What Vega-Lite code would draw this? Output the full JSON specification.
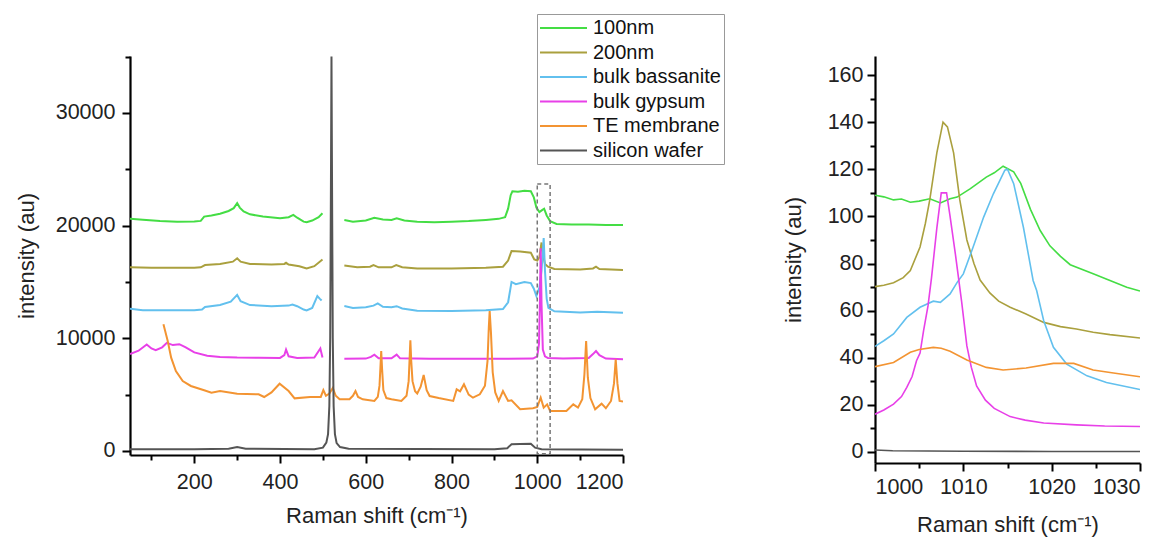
{
"$schema": "https://vega.github.io/schema/vega-lite/v6.json",
"padding": {"left": 15, "top": 13, "right": 4, "bottom": 4},
"background": "white",
"bounds": "flush",
"spacing": 252,
"config": {
  "font": "Liberation Sans",
  "view": {"stroke": null},
  "axis": {"domainColor": "black", "domainWidth": 2.2, "tickColor": "black", "tickWidth": 2, "labelFont": "Liberation Sans", "labelFontSize": 21.5, "labelColor": "#222", "titleFont": "Liberation Sans", "titleFontSize": 22, "titleFontWeight": "normal", "titleColor": "#222", "grid": false}
},
"datasets": {
  "box": [{"x1": 1000, "x2": 1030, "y1": -250, "y2": 23700}],
  "left": [
{"s":"100nm","g":"a","x":50,"y":20600},{"s":"100nm","g":"a","x":80,"y":20520},{"s":"100nm","g":"a","x":120,"y":20400},{"s":"100nm","g":"a","x":160,"y":20350},{"s":"100nm","g":"a","x":200,"y":20360},{"s":"100nm","g":"a","x":215,"y":20420},{"s":"100nm","g":"a","x":223,"y":20800},{"s":"100nm","g":"a","x":240,"y":20900},{"s":"100nm","g":"a","x":260,"y":21050},{"s":"100nm","g":"a","x":280,"y":21300},{"s":"100nm","g":"a","x":292,"y":21550},{"s":"100nm","g":"a","x":300,"y":22000},{"s":"100nm","g":"a","x":306,"y":21600},{"s":"100nm","g":"a","x":315,"y":21250},{"s":"100nm","g":"a","x":330,"y":21000},{"s":"100nm","g":"a","x":360,"y":20800},{"s":"100nm","g":"a","x":400,"y":20650},{"s":"100nm","g":"a","x":420,"y":20750},{"s":"100nm","g":"a","x":431,"y":20950},{"s":"100nm","g":"a","x":440,"y":20700},{"s":"100nm","g":"a","x":455,"y":20350},{"s":"100nm","g":"a","x":462,"y":20300},{"s":"100nm","g":"a","x":475,"y":20450},{"s":"100nm","g":"a","x":490,"y":20750},{"s":"100nm","g":"a","x":499,"y":21100},
{"s":"100nm","g":"b","x":550,"y":20500},{"s":"100nm","g":"b","x":570,"y":20350},{"s":"100nm","g":"b","x":600,"y":20450},{"s":"100nm","g":"b","x":620,"y":20700},{"s":"100nm","g":"b","x":640,"y":20550},{"s":"100nm","g":"b","x":660,"y":20500},{"s":"100nm","g":"b","x":672,"y":20650},{"s":"100nm","g":"b","x":690,"y":20450},{"s":"100nm","g":"b","x":720,"y":20350},{"s":"100nm","g":"b","x":760,"y":20300},{"s":"100nm","g":"b","x":800,"y":20350},{"s":"100nm","g":"b","x":840,"y":20400},{"s":"100nm","g":"b","x":880,"y":20500},{"s":"100nm","g":"b","x":910,"y":20600},{"s":"100nm","g":"b","x":925,"y":20750},{"s":"100nm","g":"b","x":932,"y":21500},{"s":"100nm","g":"b","x":938,"y":22700},{"s":"100nm","g":"b","x":942,"y":23050},{"s":"100nm","g":"b","x":955,"y":23000},{"s":"100nm","g":"b","x":970,"y":23100},{"s":"100nm","g":"b","x":985,"y":23050},{"s":"100nm","g":"b","x":992,"y":22500},{"s":"100nm","g":"b","x":998,"y":21600},{"s":"100nm","g":"b","x":1005,"y":21200},{"s":"100nm","g":"b","x":1012,"y":21400},{"s":"100nm","g":"b","x":1016,"y":21500},{"s":"100nm","g":"b","x":1022,"y":20900},{"s":"100nm","g":"b","x":1030,"y":20400},{"s":"100nm","g":"b","x":1045,"y":20150},{"s":"100nm","g":"b","x":1080,"y":20100},{"s":"100nm","g":"b","x":1120,"y":20100},{"s":"100nm","g":"b","x":1160,"y":20050},{"s":"100nm","g":"b","x":1200,"y":20050},
{"s":"200nm","g":"a","x":50,"y":16300},{"s":"200nm","g":"a","x":100,"y":16250},{"s":"200nm","g":"a","x":150,"y":16250},{"s":"200nm","g":"a","x":200,"y":16250},{"s":"200nm","g":"a","x":215,"y":16300},{"s":"200nm","g":"a","x":225,"y":16500},{"s":"200nm","g":"a","x":260,"y":16600},{"s":"200nm","g":"a","x":290,"y":16800},{"s":"200nm","g":"a","x":300,"y":17100},{"s":"200nm","g":"a","x":308,"y":16800},{"s":"200nm","g":"a","x":330,"y":16600},{"s":"200nm","g":"a","x":380,"y":16550},{"s":"200nm","g":"a","x":410,"y":16600},{"s":"200nm","g":"a","x":414,"y":16700},{"s":"200nm","g":"a","x":420,"y":16550},{"s":"200nm","g":"a","x":445,"y":16400},{"s":"200nm","g":"a","x":462,"y":16200},{"s":"200nm","g":"a","x":480,"y":16400},{"s":"200nm","g":"a","x":499,"y":17000},
{"s":"200nm","g":"b","x":550,"y":16450},{"s":"200nm","g":"b","x":580,"y":16300},{"s":"200nm","g":"b","x":610,"y":16350},{"s":"200nm","g":"b","x":618,"y":16500},{"s":"200nm","g":"b","x":630,"y":16300},{"s":"200nm","g":"b","x":660,"y":16300},{"s":"200nm","g":"b","x":671,"y":16500},{"s":"200nm","g":"b","x":685,"y":16300},{"s":"200nm","g":"b","x":720,"y":16200},{"s":"200nm","g":"b","x":800,"y":16200},{"s":"200nm","g":"b","x":880,"y":16250},{"s":"200nm","g":"b","x":920,"y":16350},{"s":"200nm","g":"b","x":932,"y":16900},{"s":"200nm","g":"b","x":940,"y":17750},{"s":"200nm","g":"b","x":960,"y":17700},{"s":"200nm","g":"b","x":985,"y":17600},{"s":"200nm","g":"b","x":993,"y":17000},{"s":"200nm","g":"b","x":1000,"y":16900},{"s":"200nm","g":"b","x":1005,"y":17200},{"s":"200nm","g":"b","x":1008,"y":18000},{"s":"200nm","g":"b","x":1010,"y":18500},{"s":"200nm","g":"b","x":1013,"y":17500},{"s":"200nm","g":"b","x":1018,"y":16600},{"s":"200nm","g":"b","x":1025,"y":16350},{"s":"200nm","g":"b","x":1040,"y":16150},{"s":"200nm","g":"b","x":1100,"y":16100},{"s":"200nm","g":"b","x":1130,"y":16200},{"s":"200nm","g":"b","x":1137,"y":16350},{"s":"200nm","g":"b","x":1145,"y":16150},{"s":"200nm","g":"b","x":1200,"y":16060},
{"s":"bulk bassanite","g":"a","x":50,"y":12630},{"s":"bulk bassanite","g":"a","x":80,"y":12500},{"s":"bulk bassanite","g":"a","x":120,"y":12480},{"s":"bulk bassanite","g":"a","x":200,"y":12480},{"s":"bulk bassanite","g":"a","x":218,"y":12550},{"s":"bulk bassanite","g":"a","x":225,"y":12780},{"s":"bulk bassanite","g":"a","x":260,"y":12950},{"s":"bulk bassanite","g":"a","x":285,"y":13250},{"s":"bulk bassanite","g":"a","x":300,"y":13850},{"s":"bulk bassanite","g":"a","x":308,"y":13300},{"s":"bulk bassanite","g":"a","x":330,"y":12950},{"s":"bulk bassanite","g":"a","x":380,"y":12850},{"s":"bulk bassanite","g":"a","x":420,"y":12900},{"s":"bulk bassanite","g":"a","x":429,"y":13000},{"s":"bulk bassanite","g":"a","x":440,"y":12850},{"s":"bulk bassanite","g":"a","x":455,"y":12550},{"s":"bulk bassanite","g":"a","x":462,"y":12480},{"s":"bulk bassanite","g":"a","x":475,"y":12700},{"s":"bulk bassanite","g":"a","x":487,"y":13750},{"s":"bulk bassanite","g":"a","x":493,"y":13500},{"s":"bulk bassanite","g":"a","x":497,"y":13350},
{"s":"bulk bassanite","g":"b","x":550,"y":12870},{"s":"bulk bassanite","g":"b","x":570,"y":12700},{"s":"bulk bassanite","g":"b","x":600,"y":12750},{"s":"bulk bassanite","g":"b","x":618,"y":12900},{"s":"bulk bassanite","g":"b","x":628,"y":13100},{"s":"bulk bassanite","g":"b","x":640,"y":12800},{"s":"bulk bassanite","g":"b","x":660,"y":12750},{"s":"bulk bassanite","g":"b","x":672,"y":12850},{"s":"bulk bassanite","g":"b","x":685,"y":12650},{"s":"bulk bassanite","g":"b","x":720,"y":12450},{"s":"bulk bassanite","g":"b","x":800,"y":12420},{"s":"bulk bassanite","g":"b","x":880,"y":12500},{"s":"bulk bassanite","g":"b","x":920,"y":12600},{"s":"bulk bassanite","g":"b","x":932,"y":13200},{"s":"bulk bassanite","g":"b","x":940,"y":15000},{"s":"bulk bassanite","g":"b","x":950,"y":14800},{"s":"bulk bassanite","g":"b","x":970,"y":15000},{"s":"bulk bassanite","g":"b","x":985,"y":14900},{"s":"bulk bassanite","g":"b","x":992,"y":14400},{"s":"bulk bassanite","g":"b","x":998,"y":13750},{"s":"bulk bassanite","g":"b","x":1005,"y":14500},{"s":"bulk bassanite","g":"b","x":1010,"y":16000},{"s":"bulk bassanite","g":"b","x":1015,"y":18900},{"s":"bulk bassanite","g":"b","x":1018,"y":16000},{"s":"bulk bassanite","g":"b","x":1022,"y":13500},{"s":"bulk bassanite","g":"b","x":1026,"y":12700},{"s":"bulk bassanite","g":"b","x":1040,"y":12400},{"s":"bulk bassanite","g":"b","x":1100,"y":12300},{"s":"bulk bassanite","g":"b","x":1140,"y":12350},{"s":"bulk bassanite","g":"b","x":1200,"y":12270},
{"s":"bulk gypsum","g":"a","x":50,"y":8600},{"s":"bulk gypsum","g":"a","x":70,"y":8900},{"s":"bulk gypsum","g":"a","x":89,"y":9450},{"s":"bulk gypsum","g":"a","x":100,"y":9100},{"s":"bulk gypsum","g":"a","x":110,"y":8950},{"s":"bulk gypsum","g":"a","x":125,"y":9200},{"s":"bulk gypsum","g":"a","x":136,"y":9600},{"s":"bulk gypsum","g":"a","x":150,"y":9400},{"s":"bulk gypsum","g":"a","x":165,"y":9480},{"s":"bulk gypsum","g":"a","x":180,"y":9200},{"s":"bulk gypsum","g":"a","x":200,"y":8750},{"s":"bulk gypsum","g":"a","x":230,"y":8450},{"s":"bulk gypsum","g":"a","x":260,"y":8350},{"s":"bulk gypsum","g":"a","x":300,"y":8300},{"s":"bulk gypsum","g":"a","x":350,"y":8280},{"s":"bulk gypsum","g":"a","x":400,"y":8260},{"s":"bulk gypsum","g":"a","x":410,"y":8500},{"s":"bulk gypsum","g":"a","x":414,"y":9000},{"s":"bulk gypsum","g":"a","x":420,"y":8400},{"s":"bulk gypsum","g":"a","x":440,"y":8250},{"s":"bulk gypsum","g":"a","x":480,"y":8300},{"s":"bulk gypsum","g":"a","x":494,"y":9100},{"s":"bulk gypsum","g":"a","x":499,"y":8300},
{"s":"bulk gypsum","g":"b","x":550,"y":8190},{"s":"bulk gypsum","g":"b","x":600,"y":8200},{"s":"bulk gypsum","g":"b","x":612,"y":8350},{"s":"bulk gypsum","g":"b","x":620,"y":8550},{"s":"bulk gypsum","g":"b","x":630,"y":8220},{"s":"bulk gypsum","g":"b","x":660,"y":8220},{"s":"bulk gypsum","g":"b","x":672,"y":8550},{"s":"bulk gypsum","g":"b","x":680,"y":8220},{"s":"bulk gypsum","g":"b","x":750,"y":8190},{"s":"bulk gypsum","g":"b","x":900,"y":8190},{"s":"bulk gypsum","g":"b","x":990,"y":8200},{"s":"bulk gypsum","g":"b","x":1000,"y":8400},{"s":"bulk gypsum","g":"b","x":1004,"y":9500},{"s":"bulk gypsum","g":"b","x":1006,"y":13000},{"s":"bulk gypsum","g":"b","x":1008,"y":18000},{"s":"bulk gypsum","g":"b","x":1010,"y":13000},{"s":"bulk gypsum","g":"b","x":1013,"y":9000},{"s":"bulk gypsum","g":"b","x":1018,"y":8400},{"s":"bulk gypsum","g":"b","x":1025,"y":8250},{"s":"bulk gypsum","g":"b","x":1060,"y":8200},{"s":"bulk gypsum","g":"b","x":1120,"y":8250},{"s":"bulk gypsum","g":"b","x":1130,"y":8600},{"s":"bulk gypsum","g":"b","x":1137,"y":8870},{"s":"bulk gypsum","g":"b","x":1145,"y":8500},{"s":"bulk gypsum","g":"b","x":1160,"y":8200},{"s":"bulk gypsum","g":"b","x":1200,"y":8150},
{"s":"TE membrane","g":"a","x":128,"y":11240},{"s":"TE membrane","g":"a","x":138,"y":9760},{"s":"TE membrane","g":"a","x":146,"y":8280},{"s":"TE membrane","g":"a","x":157,"y":7100},{"s":"TE membrane","g":"a","x":173,"y":6210},{"s":"TE membrane","g":"a","x":192,"y":5770},{"s":"TE membrane","g":"a","x":223,"y":5390},{"s":"TE membrane","g":"a","x":240,"y":5180},{"s":"TE membrane","g":"a","x":260,"y":5320},{"s":"TE membrane","g":"a","x":300,"y":5090},{"s":"TE membrane","g":"a","x":350,"y":5030},{"s":"TE membrane","g":"a","x":363,"y":4790},{"s":"TE membrane","g":"a","x":380,"y":5200},{"s":"TE membrane","g":"a","x":399,"y":5970},{"s":"TE membrane","g":"a","x":420,"y":5320},{"s":"TE membrane","g":"a","x":434,"y":4670},{"s":"TE membrane","g":"a","x":470,"y":4790},{"s":"TE membrane","g":"a","x":495,"y":4800},{"s":"TE membrane","g":"a","x":501,"y":5400},{"s":"TE membrane","g":"a","x":507,"y":4900},{"s":"TE membrane","g":"a","x":515,"y":5100},{"s":"TE membrane","g":"a","x":523,"y":5600},{"s":"TE membrane","g":"a","x":530,"y":4900},{"s":"TE membrane","g":"a","x":539,"y":4590},{"s":"TE membrane","g":"a","x":562,"y":4590},{"s":"TE membrane","g":"a","x":570,"y":4900},{"s":"TE membrane","g":"a","x":576,"y":5320},{"s":"TE membrane","g":"a","x":582,"y":4800},{"s":"TE membrane","g":"a","x":593,"y":4590},{"s":"TE membrane","g":"a","x":620,"y":4440},{"s":"TE membrane","g":"a","x":628,"y":4800},{"s":"TE membrane","g":"a","x":632,"y":5800},{"s":"TE membrane","g":"a","x":634,"y":7300},{"s":"TE membrane","g":"a","x":636,"y":8870},{"s":"TE membrane","g":"a","x":638,"y":7300},{"s":"TE membrane","g":"a","x":641,"y":5400},{"s":"TE membrane","g":"a","x":648,"y":4700},{"s":"TE membrane","g":"a","x":660,"y":4600},{"s":"TE membrane","g":"a","x":683,"y":4440},{"s":"TE membrane","g":"a","x":695,"y":4900},{"s":"TE membrane","g":"a","x":700,"y":6200},{"s":"TE membrane","g":"a","x":702,"y":8000},{"s":"TE membrane","g":"a","x":704,"y":9820},{"s":"TE membrane","g":"a","x":706,"y":8000},{"s":"TE membrane","g":"a","x":709,"y":6200},{"s":"TE membrane","g":"a","x":715,"y":5300},{"s":"TE membrane","g":"a","x":720,"y":5100},{"s":"TE membrane","g":"a","x":728,"y":5700},{"s":"TE membrane","g":"a","x":735,"y":6740},{"s":"TE membrane","g":"a","x":742,"y":5400},{"s":"TE membrane","g":"a","x":749,"y":4880},{"s":"TE membrane","g":"a","x":770,"y":4700},{"s":"TE membrane","g":"a","x":804,"y":4440},{"s":"TE membrane","g":"a","x":812,"y":5470},{"s":"TE membrane","g":"a","x":820,"y":5300},{"s":"TE membrane","g":"a","x":829,"y":5920},{"s":"TE membrane","g":"a","x":840,"y":5000},{"s":"TE membrane","g":"a","x":850,"y":4730},{"s":"TE membrane","g":"a","x":866,"y":5030},{"s":"TE membrane","g":"a","x":878,"y":5800},{"s":"TE membrane","g":"a","x":884,"y":8000},{"s":"TE membrane","g":"a","x":887,"y":11000},{"s":"TE membrane","g":"a","x":889,"y":12420},{"s":"TE membrane","g":"a","x":892,"y":10500},{"s":"TE membrane","g":"a","x":896,"y":7000},{"s":"TE membrane","g":"a","x":902,"y":5200},{"s":"TE membrane","g":"a","x":910,"y":4440},{"s":"TE membrane","g":"a","x":920,"y":5320},{"s":"TE membrane","g":"a","x":932,"y":4440},{"s":"TE membrane","g":"a","x":940,"y":4500},{"s":"TE membrane","g":"a","x":960,"y":3700},{"s":"TE membrane","g":"a","x":990,"y":3790},{"s":"TE membrane","g":"a","x":1000,"y":3900},{"s":"TE membrane","g":"a","x":1008,"y":4730},{"s":"TE membrane","g":"a","x":1015,"y":3850},{"s":"TE membrane","g":"a","x":1023,"y":4140},{"s":"TE membrane","g":"a","x":1030,"y":3550},{"s":"TE membrane","g":"a","x":1068,"y":3550},{"s":"TE membrane","g":"a","x":1084,"y":4140},{"s":"TE membrane","g":"a","x":1095,"y":3850},{"s":"TE membrane","g":"a","x":1105,"y":4600},{"s":"TE membrane","g":"a","x":1110,"y":6800},{"s":"TE membrane","g":"a","x":1114,"y":9760},{"s":"TE membrane","g":"a","x":1118,"y":6500},{"s":"TE membrane","g":"a","x":1124,"y":4700},{"s":"TE membrane","g":"a","x":1135,"y":3700},{"s":"TE membrane","g":"a","x":1150,"y":4200},{"s":"TE membrane","g":"a","x":1160,"y":3790},{"s":"TE membrane","g":"a","x":1172,"y":4440},{"s":"TE membrane","g":"a","x":1179,"y":6000},{"s":"TE membrane","g":"a","x":1183,"y":8140},{"s":"TE membrane","g":"a","x":1187,"y":6000},{"s":"TE membrane","g":"a","x":1192,"y":4440},{"s":"TE membrane","g":"a","x":1200,"y":4380},
{"s":"silicon wafer","g":"a","x":50,"y":150},{"s":"silicon wafer","g":"a","x":200,"y":150},{"s":"silicon wafer","g":"a","x":280,"y":200},{"s":"silicon wafer","g":"a","x":300,"y":350},{"s":"silicon wafer","g":"a","x":320,"y":200},{"s":"silicon wafer","g":"a","x":480,"y":150},{"s":"silicon wafer","g":"a","x":500,"y":300},{"s":"silicon wafer","g":"a","x":508,"y":740},{"s":"silicon wafer","g":"a","x":512,"y":1500},{"s":"silicon wafer","g":"a","x":515,"y":4000},{"s":"silicon wafer","g":"a","x":517,"y":10000},{"s":"silicon wafer","g":"a","x":519,"y":26000},{"s":"silicon wafer","g":"a","x":520,"y":35000},{"s":"silicon wafer","g":"a","x":521,"y":26000},{"s":"silicon wafer","g":"a","x":523,"y":10000},{"s":"silicon wafer","g":"a","x":525,"y":4000},{"s":"silicon wafer","g":"a","x":528,"y":1500},{"s":"silicon wafer","g":"a","x":532,"y":700},{"s":"silicon wafer","g":"a","x":540,"y":350},{"s":"silicon wafer","g":"a","x":560,"y":200},{"s":"silicon wafer","g":"a","x":900,"y":150},{"s":"silicon wafer","g":"a","x":930,"y":250},{"s":"silicon wafer","g":"a","x":940,"y":600},{"s":"silicon wafer","g":"a","x":960,"y":620},{"s":"silicon wafer","g":"a","x":985,"y":650},{"s":"silicon wafer","g":"a","x":995,"y":300},{"s":"silicon wafer","g":"a","x":1010,"y":150},{"s":"silicon wafer","g":"a","x":1200,"y":100}
  ],
  "right": [
{"s":"100nm","x":1000,"y":109},{"s":"100nm","x":1001,"y":108.3},{"s":"100nm","x":1002.1,"y":107},{"s":"100nm","x":1003,"y":107.4},{"s":"100nm","x":1004,"y":106},{"s":"100nm","x":1005,"y":106.5},{"s":"100nm","x":1006.2,"y":107.5},{"s":"100nm","x":1007.4,"y":105.7},{"s":"100nm","x":1008.5,"y":107.5},{"s":"100nm","x":1009.3,"y":108.2},{"s":"100nm","x":1010.8,"y":111.8},{"s":"100nm","x":1012.6,"y":116.7},{"s":"100nm","x":1013.5,"y":118.5},{"s":"100nm","x":1014.5,"y":121.3},{"s":"100nm","x":1015.7,"y":118.9},{"s":"100nm","x":1016.5,"y":114},{"s":"100nm","x":1017.6,"y":103},{"s":"100nm","x":1018.7,"y":94},{"s":"100nm","x":1019.8,"y":87.5},{"s":"100nm","x":1021,"y":83},{"s":"100nm","x":1022.1,"y":79.5},{"s":"100nm","x":1024.7,"y":75.6},{"s":"100nm","x":1026.6,"y":72.8},{"s":"100nm","x":1028.5,"y":69.9},{"s":"100nm","x":1030,"y":68.3},
{"s":"200nm","x":1000,"y":70.2},{"s":"200nm","x":1001,"y":70.8},{"s":"200nm","x":1002.1,"y":71.8},{"s":"200nm","x":1003.2,"y":74},{"s":"200nm","x":1004,"y":77},{"s":"200nm","x":1005.1,"y":87},{"s":"200nm","x":1005.7,"y":97},{"s":"200nm","x":1006.2,"y":107},{"s":"200nm","x":1007,"y":127},{"s":"200nm","x":1007.7,"y":140},{"s":"200nm","x":1008.2,"y":138},{"s":"200nm","x":1008.9,"y":127},{"s":"200nm","x":1009.6,"y":107},{"s":"200nm","x":1010.4,"y":90},{"s":"200nm","x":1011.2,"y":80},{"s":"200nm","x":1011.9,"y":73},{"s":"200nm","x":1013,"y":67.5},{"s":"200nm","x":1014,"y":64},{"s":"200nm","x":1015.3,"y":61.4},{"s":"200nm","x":1017.1,"y":58.6},{"s":"200nm","x":1019.1,"y":55},{"s":"200nm","x":1021,"y":53.2},{"s":"200nm","x":1022.8,"y":52.2},{"s":"200nm","x":1024.7,"y":50.8},{"s":"200nm","x":1026.6,"y":49.8},{"s":"200nm","x":1030,"y":48.4},
{"s":"bulk bassanite","x":1000,"y":44.8},{"s":"bulk bassanite","x":1001,"y":47.2},{"s":"bulk bassanite","x":1002.1,"y":50.1},{"s":"bulk bassanite","x":1003.6,"y":57.1},{"s":"bulk bassanite","x":1005.1,"y":61.4},{"s":"bulk bassanite","x":1006.6,"y":64},{"s":"bulk bassanite","x":1007.4,"y":63.5},{"s":"bulk bassanite","x":1008.5,"y":67.1},{"s":"bulk bassanite","x":1009.3,"y":72},{"s":"bulk bassanite","x":1010,"y":75.6},{"s":"bulk bassanite","x":1011.1,"y":86.9},{"s":"bulk bassanite","x":1012.3,"y":99.7},{"s":"bulk bassanite","x":1013.4,"y":109.6},{"s":"bulk bassanite","x":1014.7,"y":119.6},{"s":"bulk bassanite","x":1015,"y":120},{"s":"bulk bassanite","x":1015.7,"y":113.9},{"s":"bulk bassanite","x":1016.8,"y":95.4},{"s":"bulk bassanite","x":1017.9,"y":72.8},{"s":"bulk bassanite","x":1018.3,"y":68.5},{"s":"bulk bassanite","x":1019.1,"y":55.7},{"s":"bulk bassanite","x":1020.2,"y":44.4},{"s":"bulk bassanite","x":1021.7,"y":37.3},{"s":"bulk bassanite","x":1024,"y":32.3},{"s":"bulk bassanite","x":1026.2,"y":29.5},{"s":"bulk bassanite","x":1030,"y":26.5},
{"s":"bulk gypsum","x":1000,"y":16},{"s":"bulk gypsum","x":1001,"y":17.8},{"s":"bulk gypsum","x":1002.1,"y":20.3},{"s":"bulk gypsum","x":1003,"y":23.5},{"s":"bulk gypsum","x":1003.6,"y":27.4},{"s":"bulk gypsum","x":1004.2,"y":32},{"s":"bulk gypsum","x":1004.7,"y":38.7},{"s":"bulk gypsum","x":1005.1,"y":42},{"s":"bulk gypsum","x":1005.5,"y":51.5},{"s":"bulk gypsum","x":1006,"y":62},{"s":"bulk gypsum","x":1006.4,"y":74},{"s":"bulk gypsum","x":1007,"y":95},{"s":"bulk gypsum","x":1007.5,"y":110},{"s":"bulk gypsum","x":1008.1,"y":110},{"s":"bulk gypsum","x":1008.5,"y":100},{"s":"bulk gypsum","x":1009.1,"y":84},{"s":"bulk gypsum","x":1009.8,"y":64},{"s":"bulk gypsum","x":1010.4,"y":45},{"s":"bulk gypsum","x":1010.9,"y":36},{"s":"bulk gypsum","x":1011.5,"y":28},{"s":"bulk gypsum","x":1012.5,"y":22},{"s":"bulk gypsum","x":1013.5,"y":18.5},{"s":"bulk gypsum","x":1015.3,"y":15},{"s":"bulk gypsum","x":1017,"y":13.5},{"s":"bulk gypsum","x":1019.1,"y":12.3},{"s":"bulk gypsum","x":1022.8,"y":11.5},{"s":"bulk gypsum","x":1026,"y":11},{"s":"bulk gypsum","x":1030,"y":10.8},
{"s":"TE membrane","x":1000,"y":36.2},{"s":"TE membrane","x":1002.1,"y":38},{"s":"TE membrane","x":1004,"y":42.3},{"s":"TE membrane","x":1005,"y":43.5},{"s":"TE membrane","x":1006.6,"y":44.4},{"s":"TE membrane","x":1007.5,"y":44},{"s":"TE membrane","x":1008.5,"y":42.7},{"s":"TE membrane","x":1010.4,"y":39},{"s":"TE membrane","x":1012.6,"y":35.9},{"s":"TE membrane","x":1014.5,"y":34.8},{"s":"TE membrane","x":1017.1,"y":35.6},{"s":"TE membrane","x":1020.2,"y":37.6},{"s":"TE membrane","x":1022.5,"y":37.6},{"s":"TE membrane","x":1024.7,"y":34.8},{"s":"TE membrane","x":1027,"y":33.5},{"s":"TE membrane","x":1030,"y":31.9},
{"s":"silicon wafer","x":1000,"y":0.8},{"s":"silicon wafer","x":1002,"y":0.5},{"s":"silicon wafer","x":1010,"y":0.3},{"s":"silicon wafer","x":1020,"y":0.2},{"s":"silicon wafer","x":1030,"y":0.2}
  ]
},
"hconcat": [
  {
    "width": 493, "height": 399,
    "layer": [
      {
        "data": {"name": "left"},
        "mark": {"type": "line", "strokeWidth": 2, "clip": true},
        "encoding": {
          "x": {"field": "x", "type": "quantitative", "scale": {"domain": [50, 1200], "nice": false, "zero": false},
                "axis": {"title": "Raman shift (cm⁻¹)", "values": [100,200,300,400,500,600,700,800,900,1000,1100,1200], "labelExpr": "datum.value % 200 === 0 ? datum.label : ''", "format": "d", "tickSize": {"condition": {"test": "datum.value % 200 === 0", "value": 8}, "value": 5}, "labelPadding": 8, "titlePadding": 13}},
          "y": {"field": "y", "type": "quantitative", "scale": {"domain": [-355, 35050], "nice": false, "zero": false},
                "axis": {"title": "intensity (au)", "values": [0,5000,10000,15000,20000,25000,30000,35000], "labelExpr": "datum.value % 10000 === 0 ? datum.label : ''", "format": "d", "tickSize": {"condition": {"test": "datum.value % 10000 === 0", "value": 8}, "value": 5}, "labelPadding": 7, "titlePadding": 17}},
          "color": {"field": "s", "type": "nominal",
                    "scale": {"domain": ["100nm","200nm","bulk bassanite","bulk gypsum","TE membrane","silicon wafer"], "range": ["#44dd44","#aaa03e","#62c0ee","#e840e8","#f39432","#555555"]},
                    "legend": {"orient": "none", "legendX": 407, "legendY": -42, "title": null, "symbolType": "M-2.35,0H2.35", "symbolSize": 400, "symbolStrokeWidth": 2, "symbolOffset": 12.5, "labelOffset": 18.5, "labelFontSize": 20, "labelFont": "Liberation Sans", "labelColor": "#111", "labelLimit": 300, "padding": 3, "rowPadding": 3.5, "strokeColor": "#999", "fillColor": "white"}},
          "detail": {"field": "g", "type": "nominal"}
        }
      },
      {
        "data": {"name": "box"},
        "mark": {"type": "rect", "filled": false, "stroke": "#777", "strokeWidth": 1.5, "strokeDash": [4, 3]},
        "encoding": {
          "x": {"field": "x1", "type": "quantitative"},
          "x2": {"field": "x2"},
          "y": {"field": "y1", "type": "quantitative"},
          "y2": {"field": "y2"}
        }
      }
    ]
  },
  {
    "width": 265, "height": 407,
    "data": {"name": "right"},
    "mark": {"type": "line", "strokeWidth": 1.6, "clip": true},
    "encoding": {
      "x": {"field": "x", "type": "quantitative", "scale": {"domain": [1000, 1030], "nice": false, "zero": false},
            "axis": {"title": "Raman shift (cm⁻¹)", "values": [1000,1005,1010,1015,1020,1025,1030], "labelExpr": "datum.value % 10 === 0 ? datum.label : ''", "format": "d", "tickSize": {"condition": {"test": "datum.value % 10 === 0", "value": 8}, "value": 5}, "labelPadding": 5, "titlePadding": 17}},
      "y": {"field": "y", "type": "quantitative", "scale": {"domain": [-4.7, 168.1], "nice": false, "zero": false},
            "axis": {"title": "intensity (au)", "values": [0,10,20,30,40,50,60,70,80,90,100,110,120,130,140,150,160], "labelExpr": "datum.value % 20 === 0 ? datum.label : ''", "format": "d", "tickSize": {"condition": {"test": "datum.value % 20 === 0", "value": 8}, "value": 5}, "labelPadding": 4, "titlePadding": 22}},
      "color": {"field": "s", "type": "nominal",
                "scale": {"domain": ["100nm","200nm","bulk bassanite","bulk gypsum","TE membrane","silicon wafer"], "range": ["#44dd44","#aaa03e","#62c0ee","#e840e8","#f39432","#555555"]},
                "legend": {"orient": "none", "legendX": 407, "legendY": -42, "title": null, "symbolType": "M-2.35,0H2.35", "symbolSize": 400, "symbolStrokeWidth": 2, "symbolOffset": 12.5, "labelOffset": 18.5, "labelFontSize": 20, "labelFont": "Liberation Sans", "labelColor": "#111", "labelLimit": 300, "padding": 3, "rowPadding": 3.5, "strokeColor": "#999", "fillColor": "white"}}
    }
  }
]
}
